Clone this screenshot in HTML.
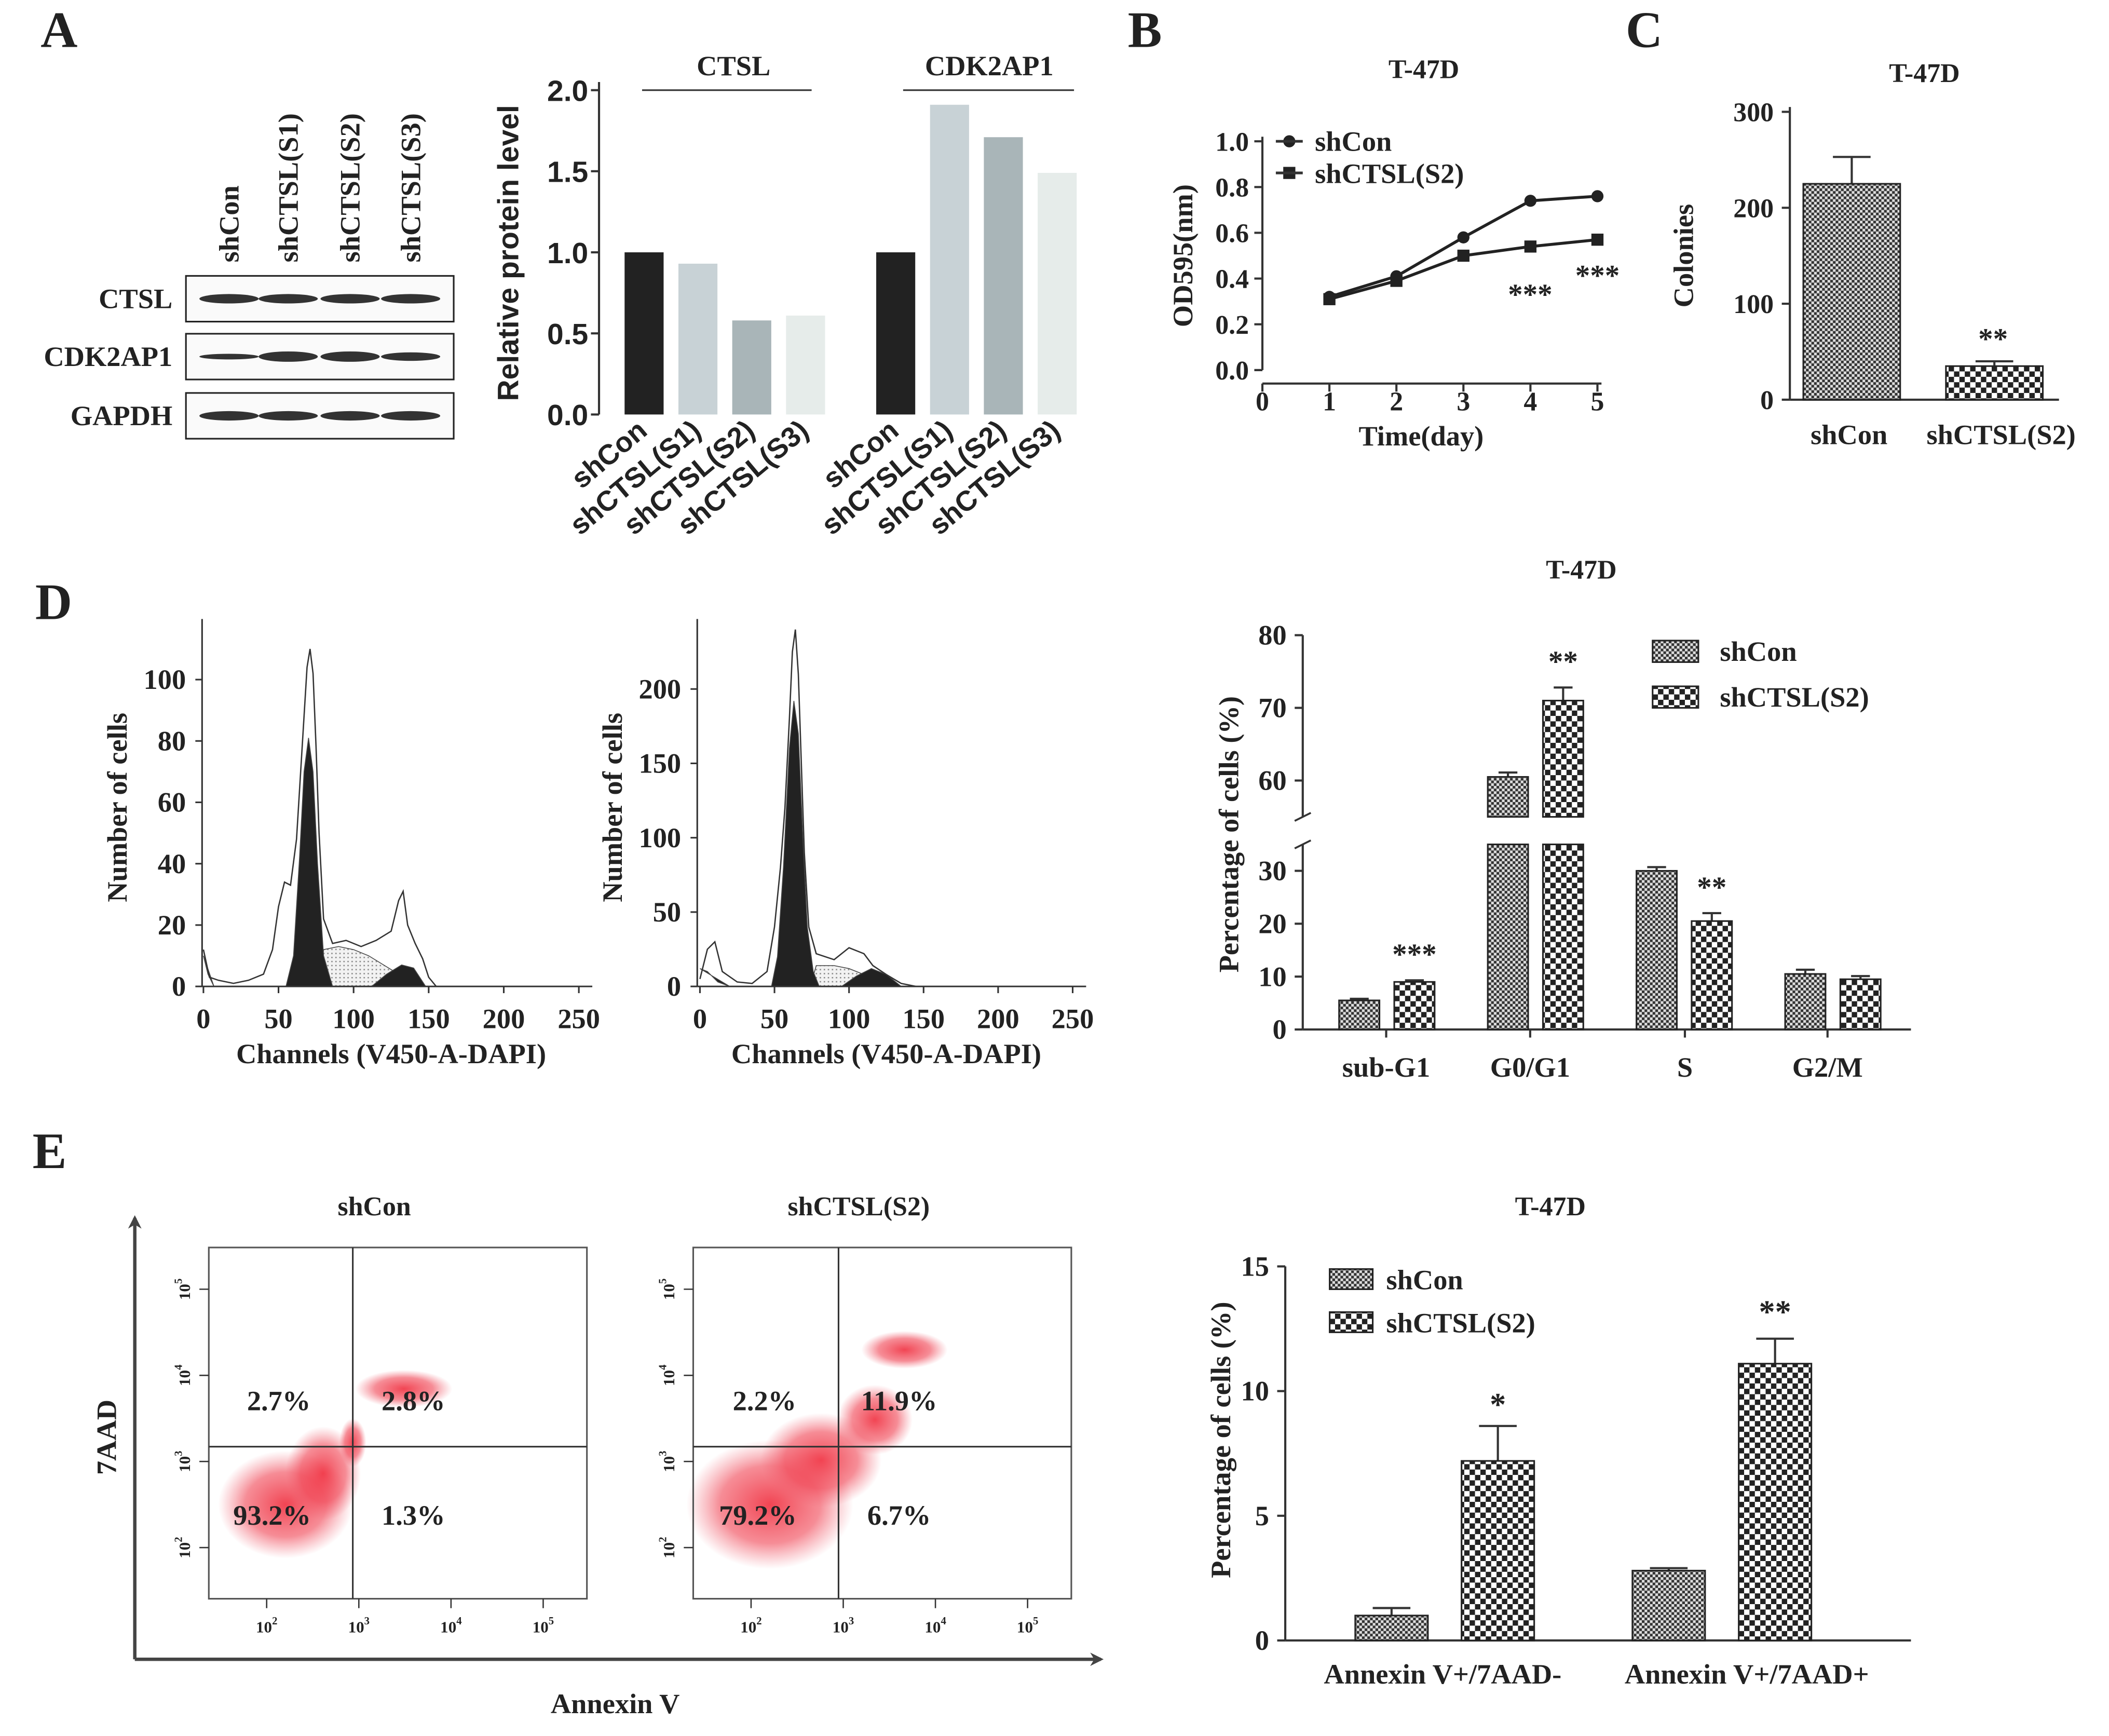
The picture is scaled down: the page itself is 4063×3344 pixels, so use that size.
<!DOCTYPE html>
<html><head><meta charset="utf-8"><style>
html,body{margin:0;padding:0;background:#fff}
svg{display:block}
text{font-family:"Liberation Serif",serif;font-weight:bold;fill:#222}
.s{font-family:"Liberation Sans",sans-serif}
</style></head><body>
<svg id="fig" xmlns="http://www.w3.org/2000/svg" width="4063" height="3344" viewBox="0 0 1567 1290">
<defs>
<pattern id="fine" width="4" height="4" patternUnits="userSpaceOnUse"><rect width="4" height="4" fill="#ddd"/><rect width="2" height="2" fill="#333"/><rect x="2" y="2" width="2" height="2" fill="#333"/></pattern>
<pattern id="coarse" width="8" height="8" patternUnits="userSpaceOnUse"><rect width="8" height="8" fill="#fff"/><rect width="4" height="4" fill="#222"/><rect x="4" y="4" width="4" height="4" fill="#222"/></pattern>
<pattern id="hatch" width="3" height="3" patternUnits="userSpaceOnUse"><rect width="3" height="3" fill="#f2f2f2"/><rect width="1" height="1" fill="#888"/></pattern>
<radialGradient id="red"><stop offset="0" stop-color="#f03040" stop-opacity="0.9"/><stop offset="0.6" stop-color="#f04050" stop-opacity="0.6"/><stop offset="1" stop-color="#f06070" stop-opacity="0"/></radialGradient>
<marker id="arr" markerWidth="10" markerHeight="10" refX="8" refY="5" orient="auto" markerUnits="userSpaceOnUse"><path d="M0,0 L10,5 L0,10 L3,5 Z" fill="#444"/></marker>
</defs>
<g id="root"></g>
</svg>
<script>
// ---------- data ----------
const aCats = ["shCon","shCTSL(S1)","shCTSL(S2)","shCTSL(S3)"];
const aCTSL = [1.0,0.93,0.58,0.61];
const aCDK = [1.0,1.91,1.71,1.49];
const aTicks = [0,0.5,1.0,1.5,2.0];
const bDays = [1,2,3,4,5];
const bShCon = [0.32,0.41,0.58,0.74,0.76];
const bShCTSL = [0.31,0.39,0.50,0.54,0.57];
const bTicks = [0,0.2,0.4,0.6,0.8,1.0];
const cCats = ["shCon","shCTSL(S2)"];
const cVals = [225,35];
const cErr = [28,5];
const cTicks = [0,100,200,300];
const h1Env = [[0,12],[4,3],[10,2],[20,1],[30,2],[40,4],[46,12],[50,26],[54,34],[58,33],[62,48],[66,80],[69,104],[71,110],[73,102],[75,78],[77,50],[80,22],[86,14],[95,15],[105,13],[115,15],[125,18],[130,28],[133,31],[136,20],[141,14],[146,9],[150,3],[155,0]];
const h1G1 = [[55,0],[60,10],[64,42],[67,70],[70,81],[73,70],[76,40],[80,10],[86,0]];
const h1S = [[78,0],[80,12],[90,13],[100,12],[110,10],[120,7],[130,4],[140,0]];
const h1G2 = [[112,0],[122,4],[132,7],[140,6],[148,0]];
const h1Sub = [[0,10],[3,4],[7,0]];
const h2Env = [[0,5],[5,25],[10,30],[15,10],[25,3],[35,2],[45,10],[50,40],[54,80],[57,120],[60,180],[62,225],[64,240],[66,210],[68,150],[70,90],[73,40],[78,22],[90,18],[100,26],[110,22],[116,14],[125,8],[135,2],[145,0]];
const h2G1 = [[48,0],[52,20],[56,80],[60,160],[63,192],[66,170],[69,100],[72,40],[76,10],[80,0]];
const h2S = [[74,0],[78,14],[90,14],[100,12],[110,8],[120,4],[130,0]];
const h2G2 = [[95,0],[105,7],[115,12],[125,8],[135,0]];
const h2Sub = [[0,12],[5,10],[12,3],[20,0]];
const dCats = ["sub-G1","G0/G1","S","G2/M"];
const dShCon = [5.5,60.5,30,10.5];
const dShCTSL = [9,71,20.5,9.5];
const dErrCon = [0.3,0.6,0.7,0.8];
const dErrCTSL = [0.3,1.8,1.5,0.6];
const dStars = ["***","**","**",""];
const dTicksLow = [0,10,20,30];
const dTicksHigh = [60,70,80];
const eCats = ["Annexin V+/7AAD-","Annexin V+/7AAD+"];
const eShCon = [1.0,2.8];
const eShCTSL = [7.2,11.1];
const eErrCon = [0.3,0.1];
const eErrCTSL = [1.4,1.0];
const eStars = ["*","**"];
const eTicks = [0,5,10,15];
const flowPct = [["2.7%","2.8%","93.2%","1.3%"],["2.2%","11.9%","79.2%","6.7%"]];
const logExp = ["2","3","4","5"];

// ---------- helpers ----------
const NS="http://www.w3.org/2000/svg";
const root=document.getElementById('root');
function el(tag,attrs,parent,txt){const e=document.createElementNS(NS,tag);for(const k in attrs)e.setAttribute(k,attrs[k]);if(txt!==undefined)e.textContent=txt;(parent||root).appendChild(e);return e;}
function line(x1,y1,x2,y2,name,w,p){const e=el('line',{x1,y1,x2,y2,stroke:'#333','stroke-width':w||1.6},p);

return e;}
function txt(x,y,s,size,name,anchor,extra){const e=el('text',Object.assign({x,y,'font-size':size,'text-anchor':anchor||'middle'},extra||{}),root,s);

return e;}
function rect(x,y,w,h,fill,name,stroke){const e=el('rect',{x,y,width:w,height:h,fill,stroke:stroke||'none','stroke-width':1.2});

return e;}

[["A",30,35],["B",838,35],["C",1208,35],["D",26,460],["E",24,868]].forEach(p=>{txt(p[1],p[2],p[0],38,'panel-label-'+p[0].toLowerCase(),'start');});

// ---------- A: western blot ----------
const wbRows=["CTSL","CDK2AP1","GAPDH"], wbY=[205,248,292], laneX=[170,214,260,305];
const bandW=[[1,1,1,1],[0.6,1.1,1.1,0.9],[1,1,1,1]];
wbRows.forEach((r,i)=>{
 rect(138,wbY[i],199,34,'#fafafa','wb-row-'+r.toLowerCase(),'#222');
 txt(128,wbY[i]+24,r,21,'wb-label-'+r.toLowerCase(),'end');
 laneX.forEach((x,j)=>{const e=el('ellipse',{cx:x,cy:wbY[i]+17,rx:22,ry:3.5*bandW[i][j],fill:'#333'});
 
 });
});
aCats.forEach((c,j)=>{txt(laneX[j]+7,195,c,21,'wb-lane-label','start',{transform:`rotate(-90 ${laneX[j]+7} 195)`});});

// ---------- A: bar chart ----------
const ay=v=>308-v*120.5;
line(445,ay(0),445,ay(2.05),'a-y-axis');
aTicks.forEach(t=>{line(439,ay(t),445,ay(t),'a-y-tick');txt(437,ay(t)+8,t.toFixed(1),22,'a-y-tick-label','end',{class:'s'});});
txt(385,188,'Relative protein level',22,'a-y-axis-title','middle',{class:'s',transform:'rotate(-90 385 188)'});
const aCols=['#222','#c8d2d6','#a9b5b8','#e6ecea'];
[[aCTSL,464,'ctsl'],[aCDK,651,'cdk2ap1']].forEach(g=>{
 g[0].forEach((v,i)=>{const x=g[1]+i*40;rect(x,ay(v),29,ay(0)-ay(v),aCols[i],'a-bar-'+g[2]+'-'+i);
 const lx=x+18, ly=322;txt(lx,ly,aCats[i],21,'a-x-label','end',{class:'s',transform:`rotate(-40 ${lx} ${ly})`});});
});
txt(545,56,'CTSL',21,'a-group-ctsl');line(477,67,603,67,'a-group-line',1.2);
txt(735,56,'CDK2AP1',21,'a-group-cdk2ap1');line(671,67,798,67,'a-group-line',1.2);

// ---------- B ----------
const bx=d=>938+d*49.8, by=v=>275-v*170;
txt(1058,58,'T-47D',20,'b-title');
line(938,by(0),938,by(1.02),'b-y-axis');line(938,285,1190,285,'b-x-axis');
bTicks.forEach(t=>{line(932,by(t),938,by(t),'b-y-tick');txt(928,by(t)+7,t.toFixed(1),20,'b-y-tick-label','end');});
[0,1,2,3,4,5].forEach(d=>{line(bx(d),285,bx(d),291,'b-x-tick');txt(bx(d),305,String(d),20,'b-x-tick-label');});
txt(886,190,'OD595(nm)',21,'b-y-axis-title','middle',{transform:'rotate(-90 886 190)'});
txt(1056,331,'Time(day)',21,'b-x-axis-title');
[[bShCon,'circle','shcon'],[bShCTSL,'square','shctsl']].forEach(s=>{
 const p=el('polyline',{points:s[0].map((v,i)=>bx(bDays[i])+','+by(v)).join(' '),fill:'none',stroke:'#222','stroke-width':2.2});
 
 
 s[0].forEach((v,i)=>{const m=s[1]=='circle'?el('circle',{cx:bx(bDays[i]),cy:by(v),r:4.5,fill:'#222'}):el('rect',{x:bx(bDays[i])-4.5,y:by(v)-4.5,width:9,height:9,fill:'#222'});
 
 });
});
el('circle',{cx:958,cy:105,r:4.5,fill:'#222'});line(948,105,968,105,'b-legend-line',2);txt(977,112,'shCon',21,'b-legend-shcon','start');
rect(953.5,124,9,9,'#222','b-legend-marker');line(948,128.5,968,128.5,'b-legend-line',2);txt(977,136,'shCTSL(S2)',21,'b-legend-shctsl','start');
txt(1137,226,'***',22,'b-sig-day4');txt(1187,212,'***',22,'b-sig-day5');

// ---------- C ----------
const cy=v=>297-v*0.713;
txt(1430,61,'T-47D',20,'c-title');
line(1330,cy(0),1330,cy(305),'c-y-axis');line(1330,297,1530,297,'c-x-axis');
cTicks.forEach(t=>{line(1324,cy(t),1330,cy(t),'c-y-tick');txt(1318,cy(t)+7,String(t),20,'c-y-tick-label','end');});
txt(1258,190,'Colonies',21,'c-y-axis-title','middle',{transform:'rotate(-90 1258 190)'});
cVals.forEach((v,i)=>{const x=1340+i*106, cx=x+36;
 line(cx,cy(v),cx,cy(v+cErr[i]),'c-error-bar');line(cx-14,cy(v+cErr[i]),cx+14,cy(v+cErr[i]),'c-error-cap');
 rect(x,cy(v),72,cy(0)-cy(v),i?'url(#coarse)':'url(#fine)','c-bar-'+i,'#222');
 txt(i?1487:1374,330,cCats[i],21,'c-x-label');});
txt(1481,259,'**',22,'c-sig');

// ---------- D histograms ----------
function hist(ox,x0,x1,y0,ymax,ypx,env,g1,s,g2,sub,ticks,id,ylx){
 const hx=c=>x0+c*(x1-x0)/250, hy=v=>y0-v*ypx;
 const pts=a=>a.map(p=>hx(p[0])+','+hy(p[1])).join(' ');
 [[s,'url(#hatch)','s-phase'],[g1,'#222','g1-peak'],[g2,'#222','g2-peak'],[sub,'#222','sub-g1']].forEach(q=>{const e=el('polygon',{points:pts(q[0]),fill:q[1],stroke:'#444','stroke-width':0.6});
 
 });
 const e=el('polyline',{points:pts(env),fill:'none',stroke:'#333','stroke-width':1});
 
 
 line(ox,y0,ox,460,id+'-y-axis',1.2);line(ox,y0,x1+10,y0,id+'-x-axis',1.2);
 ticks.forEach(t=>{line(ox-5,hy(t),ox,hy(t),id+'-y-tick',1.2);txt(ox-12,hy(t)+7,String(t),21,id+'-y-tick-label','end');});
 [0,50,100,150,200,250].forEach(c=>{line(hx(c),y0,hx(c),y0+5,id+'-x-tick',1.2);txt(hx(c),y0+31,String(c),21,id+'-x-tick-label');});
 txt((x0+x1)/2,y0+57,'Channels (V450-A-DAPI)',21,id+'-x-axis-title');
 txt(ylx,600,'Number of cells',21,id+'-y-axis-title','middle',{transform:`rotate(-90 ${ylx} 600)`});
}
hist(150,151,430,733,110,2.28,h1Env,h1G1,h1S,h1G2,h1Sub,[0,20,40,60,80,100],'d-hist-shcon',94);
hist(518,520,797,733,240,1.105,h2Env,h2G1,h2S,h2G2,h2Sub,[0,50,100,150,200],'d-hist-shctsl',462);

// ---------- D bar ----------
const dyl=v=>765-v*3.93, dyh=v=>580-(v-60)*5.4;
const dy=v=>v<=35?dyl(v):(v>=55?dyh(v):dyl(35));
txt(1175,430,'T-47D',20,'d-title');
line(968,dyl(0),968,dyl(35),'d-y-axis-low');line(968,dyh(55),968,dyh(80),'d-y-axis-high');
line(962,dyl(35)+3,974,dyl(35)-3,'d-break',1.4);line(962,dyh(55)+3,974,dyh(55)-3,'d-break',1.4);
dTicksLow.forEach(t=>{line(962,dyl(t),968,dyl(t),'d-y-tick');txt(956,dyl(t)+7,String(t),21,'d-y-tick-label','end');});
dTicksHigh.forEach(t=>{line(962,dyh(t),968,dyh(t),'d-y-tick');txt(956,dyh(t)+7,String(t),21,'d-y-tick-label','end');});
line(968,765,1420,765,'d-x-axis');
txt(920,620,'Percentage of cells (%)',21,'d-y-axis-title','middle',{transform:'rotate(-90 920 620)'});
const dLabX=[1030,1137,1252,1358];
dCats.forEach((c,i)=>{const x=995+i*110.5;
 [[dShCon,dErrCon,'url(#fine)',x],[dShCTSL,dErrCTSL,'url(#coarse)',x+41]].forEach((s,k)=>{const v=s[0][i],e=s[1][i],bx0=s[3];
  line(bx0+15,dy(v),bx0+15,dy(v+e),'d-error-bar');line(bx0+8,dy(v+e),bx0+22,dy(v+e),'d-error-cap');
  if(v>35){rect(bx0,dyl(35),30,dyl(0)-dyl(35),s[2],'d-bar-'+c+'-'+k,'#222');rect(bx0,dyh(v),30,dyh(55)-dyh(v),s[2],'d-bar-'+c+'-'+k+'-top','#222');}
  else rect(bx0,dy(v),30,dyl(0)-dy(v),s[2],'d-bar-'+c+'-'+k,'#222');
 });
 line(dLabX[i],765,dLabX[i],771,'d-x-tick');
 txt(dLabX[i],800,c,21,'d-x-label');
 if(dStars[i])txt(x+56,dy(dShCTSL[i]+dErrCTSL[i])-12,dStars[i],22,'d-sig');
});
rect(1228,476,34,16,'url(#fine)','d-legend-shcon-swatch','#222');txt(1278,491,'shCon',21,'d-legend-shcon','start');
rect(1228,510,34,16,'url(#coarse)','d-legend-shctsl-swatch','#222');txt(1278,525,'shCTSL(S2)',21,'d-legend-shctsl','start');

// ---------- E flow ----------
const va=el('line',{x1:100,y1:1233,x2:100,y2:905,stroke:'#444','stroke-width':2.5,'marker-end':'url(#arr)'});


const ha=el('line',{x1:100,y1:1233,x2:818,y2:1233,stroke:'#444','stroke-width':2.5,'marker-end':'url(#arr)'});


txt(86,1068,'7AAD',21,'e-y-axis-title','middle',{transform:'rotate(-90 86 1068)'});
txt(457,1273,'Annexin V',21,'e-x-axis-title');
[[155,262,'shCon',278,[[212,1118,50,40],[240,1095,28,35],[262,1072,10,18],[300,1032,36,14]]],[515,623,'shCTSL(S2)',647,[[572,1118,62,48],[610,1085,45,35],[650,1055,28,26],[672,1003,32,14]]]].forEach((f,k)=>{
 const x0=f[0],dx=f[1];
 f[4].forEach(c=>{const e=el('ellipse',{cx:c[0],cy:c[1],rx:c[2],ry:c[3],fill:'url(#red)'});
 
 });
 rect(x0,927,281,261,'none','e-flow-plot-'+k,'#555');
 line(dx,927,dx,1188,'e-quadrant-v',1.2);line(x0,1075,x0+281,1075,'e-quadrant-h',1.2);
 txt(x0+123,903,f[2],20,'e-flow-title-'+k);
 const p=flowPct[k];
 txt(dx-55,1048,p[0],21,'e-pct-ul');txt(dx+45,1048,p[1],21,'e-pct-ur');
 txt(dx-60,1133,p[2],21,'e-pct-ll');txt(dx+45,1133,p[3],21,'e-pct-lr');
 logExp.forEach((s,j)=>{
  const lx=x0+43+j*68.5, ly=1150-j*64;
  line(lx,1188,lx,1195,'e-x-log-tick',1);line(x0-7,ly,x0,ly,'e-y-log-tick',1);
  const t=txt(lx,1213,'10',12,'e-x-log-label','middle',{'font-weight':'normal'});
  el('tspan',{dy:-6,'font-size':8},t,s);
  const t2=txt(x0-14,ly,'10',12,'e-y-log-label','middle',{'font-weight':'normal',transform:`rotate(-90 ${x0-14} ${ly})`});
  el('tspan',{dy:-6,'font-size':8},t2,s);
 });
});

// ---------- E bar ----------
const ey=v=>1219-v*18.53;
txt(1152,903,'T-47D',20,'e-title');
line(955,ey(0),955,ey(15),'e-y-axis');line(955,1219,1420,1219,'e-x-axis');
eTicks.forEach(t=>{line(949,ey(t),955,ey(t),'e-y-tick');txt(943,ey(t)+7,String(t),21,'e-y-tick-label','end');});
txt(914,1070,'Percentage of cells (%)',21,'e-bar-y-axis-title','middle',{transform:'rotate(-90 914 1070)'});
eCats.forEach((c,i)=>{const x=1007+i*206;
 [[eShCon,eErrCon,'url(#fine)',x],[eShCTSL,eErrCTSL,'url(#coarse)',x+79]].forEach((s,k)=>{const v=s[0][i],e=s[1][i],b=s[3];
  line(b+27,ey(v),b+27,ey(v+e),'e-error-bar');line(b+13,ey(v+e),b+41,ey(v+e),'e-error-cap');
  rect(b,ey(v),54,ey(0)-ey(v),s[2],'e-bar-'+i+'-'+k,'#222');});
 txt(i?1298:1072,1251,c,21,'e-x-label');
 txt(x+106,ey(eShCTSL[i]+eErrCTSL[i])-(i?12:8),eStars[i],24,'e-sig');
});
rect(988,943,32,15,'url(#fine)','e-legend-shcon-swatch','#222');txt(1030,958,'shCon',21,'e-legend-shcon','start');
rect(988,975,32,15,'url(#coarse)','e-legend-shctsl-swatch','#222');txt(1030,990,'shCTSL(S2)',21,'e-legend-shctsl','start');
</script>
</body></html>
